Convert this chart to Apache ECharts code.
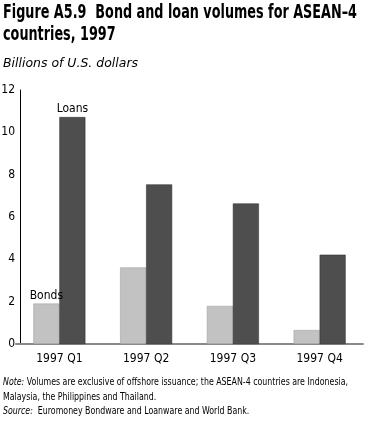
<!DOCTYPE html>
<html><head><meta charset="utf-8">
<script src="https://cdn.jsdelivr.net/npm/echarts@6/dist/echarts.min.js"></script>
<style>html,body{margin:0;padding:0;background:#fff}#c{width:365px;height:426px}</style>
</head><body><div id="c"></div>
<script>
const categories = ['1997 Q1', '1997 Q2', '1997 Q3', '1997 Q4'];
const bonds = [1.91, 3.62, 1.80, 0.66];
const loans = [10.72, 7.54, 6.64, 4.22];
const yTicks = [0, 2, 4, 6, 8, 10, 12];
const titleLines = ['Figure A5.9  Bond and loan volumes for ASEAN–4', 'countries, 1997'];
const unitText = 'Billions of U.S. dollars';
const noteLines = [
  ['Note:', ' Volumes are exclusive of offshore issuance; the ASEAN-4 countries are Indonesia,'],
  ['', 'Malaysia, the Philippines and Thailand.'],
  ['Source:', '  Euromoney Bondware and Loanware and World Bank.']
];

const FAM = '"DejaVu Sans Condensed", "DejaVu Sans", sans-serif';
const mctx = document.createElement('canvas').getContext('2d');
function measure(font, s) { mctx.font = font + ' ' + FAM; return mctx.measureText(s).width; }

// condensing factors to mimic the narrow typeface of the original
const titleFont = 'bold 20px';
const titleScale = 354 / measure(titleFont, titleLines[0]);
const unitFont = 'italic 13px';
const unitScale = 135 / measure(unitFont, unitText);
const noteSize = 10.5;
const noteScale = 345 / (measure('italic ' + noteSize + 'px', noteLines[0][0]) + measure(noteSize + 'px', noteLines[0][1]));

const graphics = [];
titleLines.forEach((t, i) => graphics.push({
  type: 'text', x: 3, y: 3 + i * 22, scaleX: titleScale,
  style: {text: t, font: titleFont + ' ' + FAM, fill: '#000', verticalAlign: 'top'}
}));
graphics.push({type: 'text', x: 3, y: 57, scaleX: unitScale,
  style: {text: unitText, font: unitFont + ' ' + FAM, fill: '#000', verticalAlign: 'top'}});
noteLines.forEach((p, i) => graphics.push({
  type: 'text', x: 3, y: 377 + i * 14.5, scaleX: noteScale,
  style: {text: (p[0] ? '{i|' + p[0] + '}' : '') + '{n|' + p[1] + '}', verticalAlign: 'top', fill: '#000',
    rich: {i: {fontFamily: FAM, fontStyle: 'italic', fontSize: noteSize, fill: '#000'},
           n: {fontFamily: FAM, fontSize: noteSize, fill: '#000'}}}
}));

const chart = echarts.init(document.getElementById('c'), null, {renderer: 'canvas'});
chart.setOption({
  animation: false,
  backgroundColor: '#fff',
  graphic: graphics,
  grid: {left: 16, right: 2, top: 90, bottom: 82, containLabel: false, outerBoundsMode: 'none'},
  xAxis: {
    type: 'category', data: categories,
    axisLine: {lineStyle: {color: '#8a8a8a', width: 2}},
    axisTick: {show: false},
    axisLabel: {fontFamily: FAM, fontSize: 12, color: '#000', margin: 9}
  },
  yAxis: {
    type: 'value', min: yTicks[0], max: yTicks[yTicks.length - 1], interval: 2, offset: -4,
    axisLine: {show: true, lineStyle: {color: '#000', width: 1}},
    axisTick: {show: false},
    splitLine: {show: false},
    axisLabel: {fontFamily: FAM, fontSize: 12, color: '#000', margin: 5}
  },
  series: [
    {name: 'Bonds', type: 'bar', data: bonds.map((v, i) => i === 0 ? {value: v, label: {show: true}} : v),
     barWidth: 26, barGap: '0%',
     itemStyle: {color: '#c2c2c2', borderColor: '#9a9a9a', borderWidth: 0.5},
     label: {show: false, position: 'top', formatter: 'Bonds', fontFamily: FAM, fontSize: 12, color: '#000', distance: 2}},
    {name: 'Loans', type: 'bar', data: loans.map((v, i) => i === 0 ? {value: v, label: {show: true}} : v),
     barWidth: 26,
     itemStyle: {color: '#4e4e4e', borderColor: '#2a2a2a', borderWidth: 0.5},
     label: {show: false, position: 'top', formatter: 'Loans', fontFamily: FAM, fontSize: 12, color: '#000', distance: 2}}
  ]
});
</script></body></html>
